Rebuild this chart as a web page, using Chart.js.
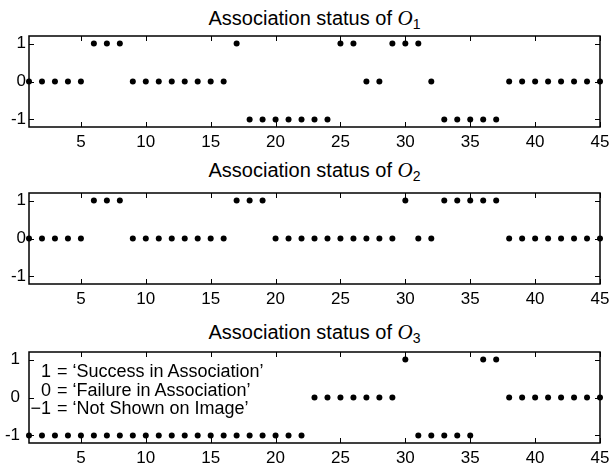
<!DOCTYPE html>
<html>
<head>
<meta charset="utf-8">
<script src="https://cdn.jsdelivr.net/npm/chart.js@4"></script>
<style>
    body { margin: 0; width: 613px; height: 468px; background: #fff; position: relative; overflow: hidden; font-family: "Liberation Sans", Arial, sans-serif; }
    canvas { position: absolute; left: 0; }
    .title { position: absolute; left: 0; width: 629px; text-align: center; font-size: 20px; line-height: 20px; color: #000; white-space: nowrap; }
    .title i { font-family: "Liberation Serif", "Times New Roman", serif; font-size: 21px; }
    .title sub { font-size: 14px; vertical-align: -4px; line-height: 0; }
    .legend { position: absolute; left: 30px; top: 362px; font-size: 18px; line-height: 18.5px; color: #000; white-space: nowrap; }
    .legend span { display: inline-block; width: 21px; text-align: right; margin-right: 6px; }
</style>
</head>
<body>

<div class="title" style="top:8px">Association status of <i>O</i><sub>1</sub></div>
<canvas id="chart-o1" width="613" height="125" style="top:32px"></canvas>

<div class="title" style="top:160px">Association status of <i>O</i><sub>2</sub></div>
<canvas id="chart-o2" width="613" height="125" style="top:189px"></canvas>

<div class="title" style="top:322px">Association status of <i>O</i><sub>3</sub></div>
<canvas id="chart-o3" width="613" height="125" style="top:348px"></canvas>

<div class="legend">
    <div><span>1</span>= ‘Success in Association’</div>
    <div><span>0</span>= ‘Failure in Association’</div>
    <div><span>−1</span>= ‘Not Shown on Image’</div>
</div>

<script>
// ============================================
// DATA
// ============================================

const frames = [1, 2, 3, 4, 5, 6, 7, 8, 9, 10, 11, 12, 13, 14, 15, 16, 17, 18, 19, 20, 21, 22, 23,
                24, 25, 26, 27, 28, 29, 30, 31, 32, 33, 34, 35, 36, 37, 38, 39, 40, 41, 42, 43, 44, 45];

const statusO1 = [0, 0, 0, 0, 0, 1, 1, 1, 0, 0, 0, 0, 0, 0, 0, 0, 1, -1, -1, -1, -1, -1, -1,
                  -1, 1, 1, 0, 0, 1, 1, 1, 0, -1, -1, -1, -1, -1, 0, 0, 0, 0, 0, 0, 0, 0];

const statusO2 = [0, 0, 0, 0, 0, 1, 1, 1, 0, 0, 0, 0, 0, 0, 0, 0, 1, 1, 1, 0, 0, 0, 0,
                  0, 0, 0, 0, 0, 0, 1, 0, 0, 1, 1, 1, 1, 1, 0, 0, 0, 0, 0, 0, 0, 0];

const statusO3 = [-1, -1, -1, -1, -1, -1, -1, -1, -1, -1, -1, -1, -1, -1, -1, -1, -1, -1, -1, -1, -1, -1, 0,
                  0, 0, 0, 0, 0, 0, 1, -1, -1, -1, -1, -1, 1, 1, 0, 0, 0, 0, 0, 0, 0, 0];

const xTicks = [5, 10, 15, 20, 25, 30, 35, 40, 45];
const yTicks = [-1, 0, 1];

// ============================================
// FRAME PLUGIN (box + inward tick marks, matlab style)
// ============================================

const framePlugin = {
    id: 'frame',
    beforeDatasetsDraw(chart) {
        const { ctx, chartArea: a, scales } = chart;
        const len = 5;
        ctx.save();
        ctx.strokeStyle = '#000';
        ctx.lineWidth = 1.5;
        ctx.strokeRect(a.left, a.top, a.right - a.left, a.bottom - a.top);
        ctx.lineWidth = 1;
        ctx.beginPath();
        scales.x.ticks.forEach(t => {
            const px = Math.round(scales.x.getPixelForValue(t.value)) + 0.5;
            ctx.moveTo(px, a.bottom); ctx.lineTo(px, a.bottom - len);
            ctx.moveTo(px, a.top); ctx.lineTo(px, a.top + len);
        });
        scales.y.ticks.forEach(t => {
            const py = Math.round(scales.y.getPixelForValue(t.value)) + 0.5;
            ctx.moveTo(a.left, py); ctx.lineTo(a.left + len, py);
            ctx.moveTo(a.right, py); ctx.lineTo(a.right - len, py);
        });
        ctx.stroke();
        ctx.restore();
    }
};

// ============================================
// CHARTS
// ============================================

function makeStatusChart(canvasId, values, yPad) {
    const points = frames.map((f, i) => ({ x: f, y: values[i] }));
    const tickFont = { family: '"Liberation Sans", Arial, sans-serif', size: 17 };

    return new Chart(document.getElementById(canvasId), {
        type: 'scatter',
        data: {
            datasets: [{
                data: points,
                pointRadius: 3,
                pointBackgroundColor: '#000',
                pointBorderWidth: 0,
                clip: false
            }]
        },
        options: {
            responsive: false,
            animation: false,
            layout: { padding: { top: 4, right: 13, left: 0, bottom: 0 } },
            plugins: { legend: { display: false }, tooltip: { enabled: false } },
            scales: {
                x: {
                    type: 'linear',
                    min: 1,
                    max: 45,
                    afterBuildTicks: s => { s.ticks = xTicks.map(v => ({ value: v })); },
                    afterFit: s => { s.height = 30; s.paddingLeft = 0; s.paddingRight = 0; },
                    grid: { display: false, drawTicks: false },
                    border: { display: false },
                    ticks: { color: '#000', font: tickFont, padding: 5, maxRotation: 0, autoSkip: false }
                },
                y: {
                    min: -1.2,
                    max: 1.2,
                    afterBuildTicks: s => { s.ticks = yTicks.map(v => ({ value: v })); },
                    afterFit: s => { s.width = 29; s.paddingTop = 0; s.paddingBottom = 0; },
                    grid: { display: false, drawTicks: false },
                    border: { display: false },
                    ticks: { color: '#000', font: tickFont, padding: yPad, autoSkip: false }
                }
            }
        },
        plugins: [framePlugin]
    });
}

makeStatusChart('chart-o1', statusO1, 3);
makeStatusChart('chart-o2', statusO2, 3);
makeStatusChart('chart-o3', statusO3, 9);
</script>
</body>
</html>
